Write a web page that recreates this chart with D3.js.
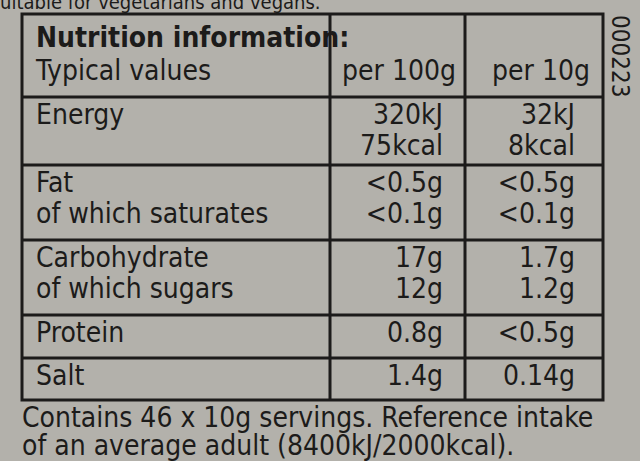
<!DOCTYPE html>
<html><head><meta charset="utf-8">
<script src="https://cdn.jsdelivr.net/npm/d3@7"></script>
<style>body{margin:0;background:#b3b1ab}text{font-family:"Liberation Sans Narrow","DejaVu Sans Condensed",sans-serif;fill:#1c1b1a}</style>
</head><body><svg id="c" width="640" height="461"></svg>
<script>
// table contents
var labels = [["Energy"], ["Fat", "of which saturates"], ["Carbohydrate", "of which sugars"], ["Protein"], ["Salt"]];
var per100 = [["320kJ", "75kcal"], ["<0.5g", "<0.1g"], ["17g", "12g"], ["0.8g"], ["1.4g"]];
var per10 = [["32kJ", "8kcal"], ["<0.5g", "<0.1g"], ["1.7g", "1.2g"], ["<0.5g"], ["0.14g"]];
var rowEdges = [97, 165, 240, 315, 358, 400];
var headers = ["per 100g", "per 10g"];
var footer = ["Contains 46 x 10g servings. Reference intake", "of an average adult (8400kJ/2000kcal)."];

var svg = d3.select('#c');
var tLeft = 22, tRight = 603, tTop = 14, c1 = 330, c2 = 465;
var lh = 31, fs = 28;

svg.append('text').attr('x', 0).attr('y', 9).attr('font-size', 20).text('uitable for vegetarians and vegans.');

svg.append('rect').attr('x', tLeft).attr('y', tTop).attr('width', tRight - tLeft).attr('height', rowEdges[5] - tTop)
  .attr('fill', 'none').attr('stroke', '#1c1b1a').attr('stroke-width', 3);
[c1, c2].forEach(x => svg.append('line').attr('x1', x).attr('x2', x).attr('y1', tTop).attr('y2', rowEdges[5]).attr('stroke', '#1c1b1a').attr('stroke-width', 3));
rowEdges.slice(0, 5).forEach(y => svg.append('line').attr('x1', tLeft).attr('x2', tRight).attr('y1', y).attr('y2', y).attr('stroke', '#1c1b1a').attr('stroke-width', 3));

svg.append('text').attr('x', 36).attr('y', 47).attr('font-size', fs).attr('font-weight', 'bold').text('Nutrition information:');
svg.append('text').attr('x', 36).attr('y', 80).attr('font-size', fs).text('Typical values');
svg.append('text').attr('x', 456).attr('y', 80).attr('text-anchor', 'end').attr('font-size', fs).text(headers[0]);
svg.append('text').attr('x', 590).attr('y', 80).attr('text-anchor', 'end').attr('font-size', fs).text(headers[1]);

var rows = svg.selectAll('g.row').data(labels.map((l, i) => ({l: l, a: per100[i], b: per10[i], y: rowEdges[i]})))
  .join('g').attr('class', 'row');
function lines(sel, key, x, anchor) {
  sel.each(function(d) {
    d3.select(this).selectAll(null).data(d[key]).join('text')
      .attr('x', x).attr('y', (t, j) => d.y + 27 + j * lh)
      .attr('text-anchor', anchor).attr('font-size', fs).text(t => t);
  });
}
lines(rows, 'l', 36, 'start');
lines(rows, 'a', 443, 'end');
lines(rows, 'b', 575, 'end');

footer.forEach((t, i) => svg.append('text').attr('x', 22).attr('y', 427 + i * 28).attr('font-size', fs).text(t));

svg.append('text').attr('transform', 'translate(612,15) rotate(90)').attr('font-size', 24).text('000223');
</script></body></html>
